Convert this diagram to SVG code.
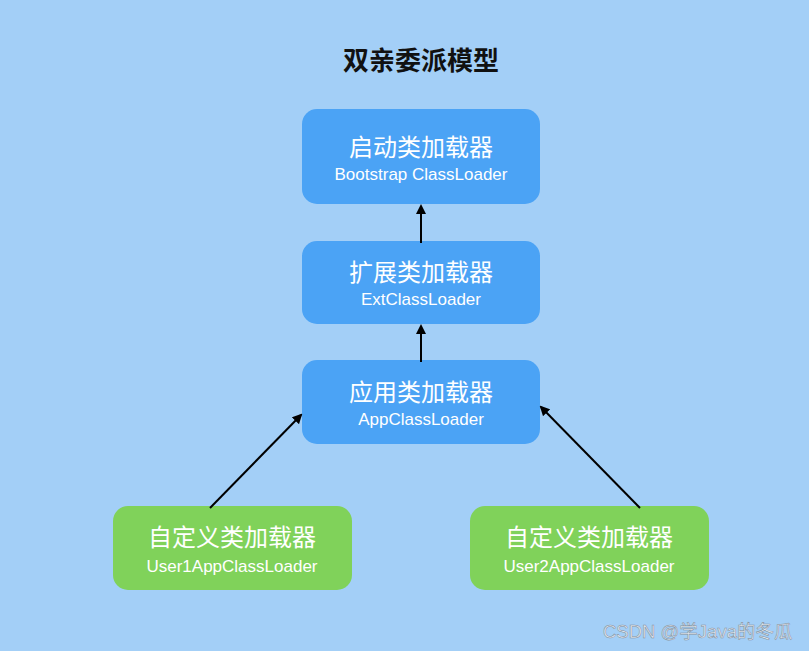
<svg xmlns="http://www.w3.org/2000/svg" width="809" height="651" viewBox="0 0 809 651">
<style>
.blue{fill:#4ba3f5}
.green{fill:#80d25a}
.t1{font-family:"Noto Sans CJK SC","Liberation Sans",sans-serif;font-size:24px;fill:#fff;text-anchor:middle}
.t2{font-family:"Liberation Sans","Noto Sans CJK SC",sans-serif;font-size:17px;fill:#fff;text-anchor:middle}
.title{font-family:"Noto Sans CJK SC",sans-serif;font-size:26px;font-weight:bold;fill:#111;text-anchor:middle}
.wm{font-family:"Liberation Sans","Noto Sans CJK SC",sans-serif;font-size:18.5px;fill:#e4eaf1;stroke:#7f8b98;stroke-width:0.5}
.c{stroke:#000;stroke-width:2;fill:none;marker-end:url(#ah)}
</style>
<defs>
<marker id="ah" markerWidth="10" markerHeight="10" refX="8" refY="5" orient="auto" markerUnits="userSpaceOnUse">
<path d="M0,0 L10,5 L0,10 z" fill="#000"/>
</marker>
</defs>
<rect width="809" height="651" fill="#a3cff7"/>
<text class="title" x="421" y="70">双亲委派模型</text>
<g id="bootstrap">
<rect class="blue" x="302" y="109" width="238" height="95" rx="15"/>
<text class="t1" x="421" y="156">启动类加载器</text>
<text class="t2" x="421" y="180">Bootstrap ClassLoader</text>
</g>
<g id="ext">
<rect class="blue" x="302" y="241" width="238" height="83" rx="15"/>
<text class="t1" x="421" y="281">扩展类加载器</text>
<text class="t2" x="421" y="305">ExtClassLoader</text>
</g>
<g id="app">
<rect class="blue" x="302" y="360" width="238" height="84" rx="15"/>
<text class="t1" x="421" y="401">应用类加载器</text>
<text class="t2" x="421" y="425">AppClassLoader</text>
</g>
<g id="user1">
<rect class="green" x="113" y="506" width="239" height="84" rx="15"/>
<text class="t1" x="232" y="546">自定义类加载器</text>
<text class="t2" x="232" y="572">User1AppClassLoader</text>
</g>
<g id="user2">
<rect class="green" x="470" y="506" width="239" height="84" rx="15"/>
<text class="t1" x="589" y="546">自定义类加载器</text>
<text class="t2" x="589" y="572">User2AppClassLoader</text>
</g>
<g id="connectors">
<line class="c" x1="421" y1="243" x2="421" y2="206"/>
<line class="c" x1="421" y1="362" x2="421" y2="326"/>
<line class="c" x1="210" y1="508" x2="301" y2="415"/>
<line class="c" x1="640" y1="508" x2="541" y2="407"/>
</g>
<text class="wm" x="603" y="638">CSDN @学Java的冬瓜</text>
</svg>
